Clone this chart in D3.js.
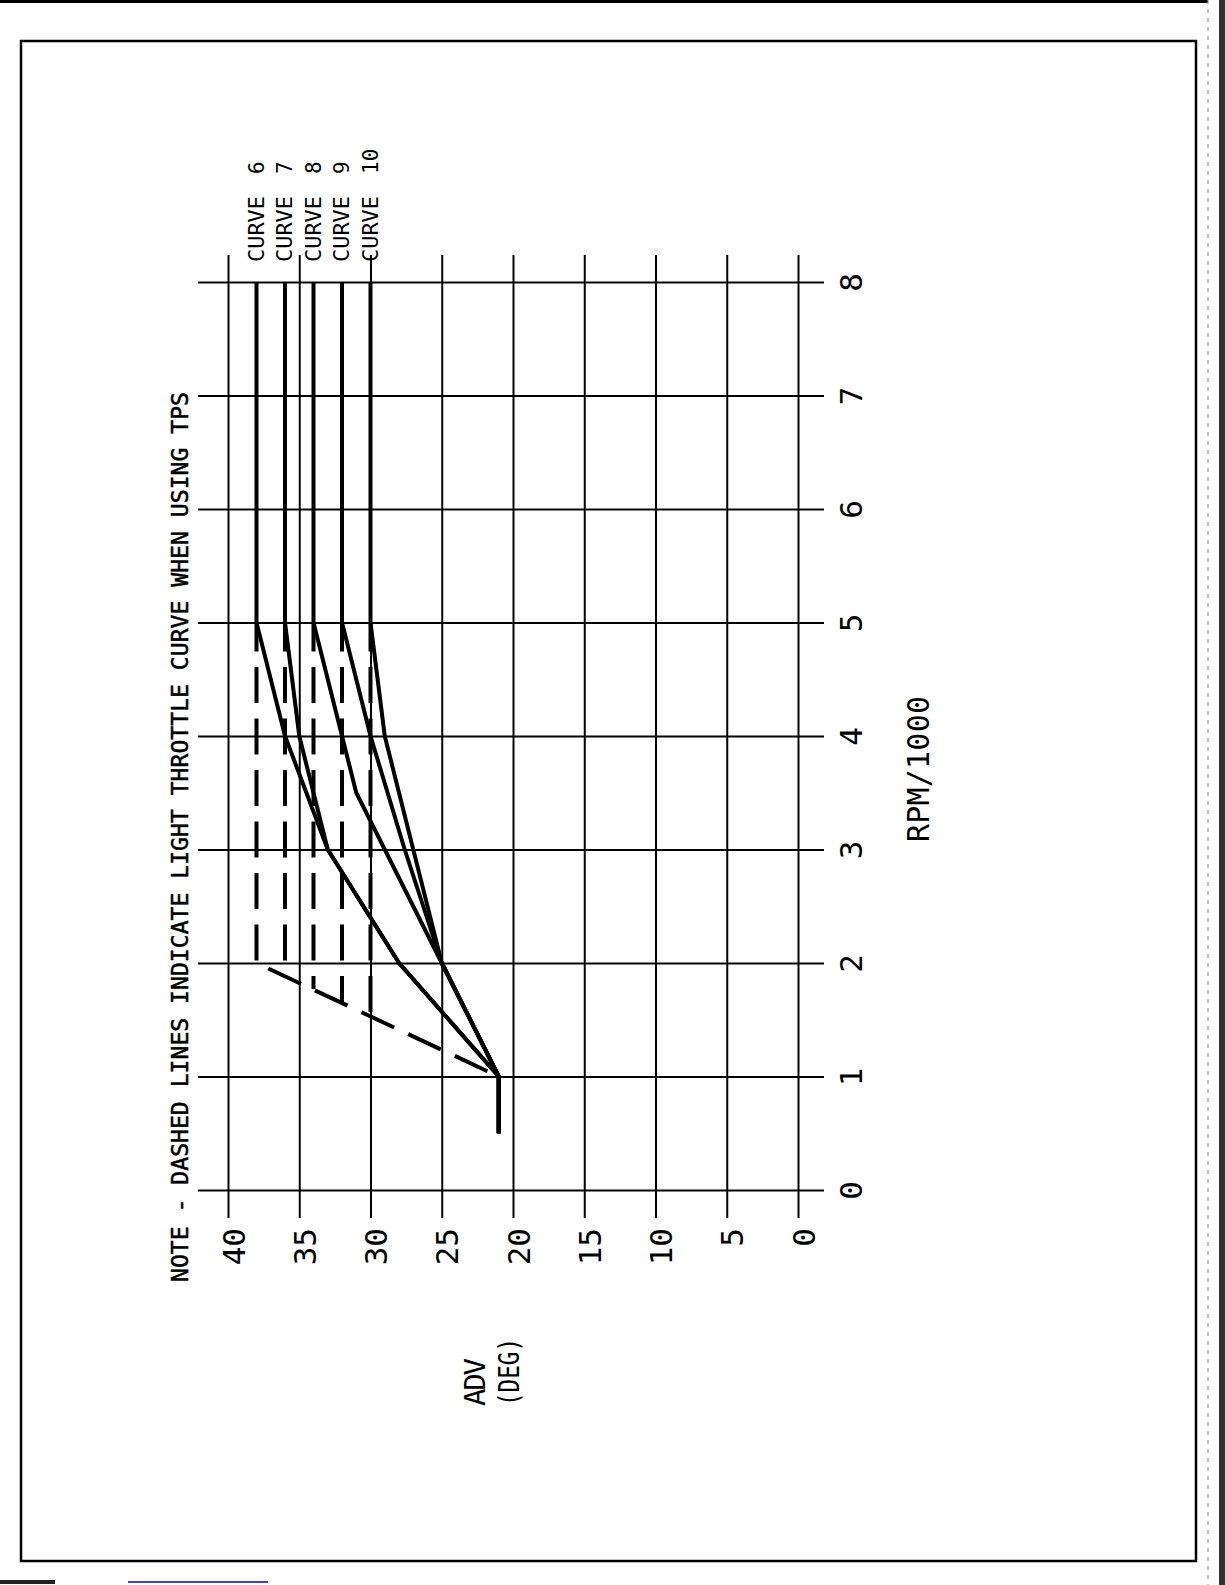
<!DOCTYPE html>
<html>
<head>
<meta charset="utf-8">
<script src="https://cdn.jsdelivr.net/npm/d3@7"></script>
<style>
  body { margin: 0; background: #fff; }
  svg { display: block; }
  text { font-family: "DejaVu Sans Mono", monospace; fill: #000; }
</style>
</head>
<body>
<div id="chart"></div>
<script>
// ticks
const rpmTicks = [0, 1, 2, 3, 4, 5, 6, 7, 8];
const advTicks = [40, 35, 30, 25, 20, 15, 10, 5, 0];

// full throttle curves, [rpm/1000, advance deg]
const curveNumbers = ["6", "7", "8", "9", "10"];
const curveMaxAdv = [38, 36, 34, 32, 30];
const curve6 = [[0.5, 21], [1, 21], [2, 28], [3, 33], [4, 36], [5, 38], [8, 38]];
const curve7 = [[0.5, 21], [1, 21], [2, 28], [3, 33], [4, 35], [5, 36], [8, 36]];
const curve8 = [[0.5, 21], [1, 21], [2, 25], [3.5, 31], [4, 32], [5, 34], [8, 34]];
const curve9 = [[0.5, 21], [1, 21], [2, 25], [3, 27.6], [4, 30], [5, 32], [8, 32]];
const curve10 = [[0.5, 21], [1, 21], [2, 25], [4, 29], [5, 30], [8, 30]];

// light throttle (dashed) : flat from 5000 down to break rpm, then to idle point
const lightTopRpm = 5;
const lightBreakRpm = [2.0, 1.88, 1.77, 1.65, 1.53];
const idlePoint = [1, 21];

const noteText = "NOTE - DASHED LINES INDICATE LIGHT THROTTLE CURVE WHEN USING TPS";

const width = 1225, height = 1585;
const svg = d3.select("#chart").append("svg").attr("width", width).attr("height", height);
svg.append("rect").attr("width", width).attr("height", height).attr("fill", "#fff");

// page frame and scan edges
svg.append("rect").attr("x", 21).attr("y", 41).attr("width", 1175).attr("height", 1520)
  .attr("fill", "none").attr("stroke", "#000").attr("stroke-width", 2.5);
svg.append("line").attr("x1", 0).attr("x2", 1208).attr("y1", 1.5).attr("y2", 1.5)
  .attr("stroke", "#000").attr("stroke-width", 3);
svg.append("line").attr("x1", 1208).attr("x2", 1208).attr("y1", 0).attr("y2", height)
  .attr("stroke", "#999").attr("stroke-width", 1.2).attr("stroke-dasharray", "4,5");
svg.append("rect").attr("x", 1219).attr("y", 0).attr("width", 6).attr("height", height).attr("fill", "#333");
svg.append("rect").attr("x", 0).attr("y", 1580).attr("width", 55).attr("height", 4).attr("fill", "#222");
svg.append("line").attr("x1", 128).attr("x2", 268).attr("y1", 1582).attr("y2", 1582)
  .attr("stroke", "#0000cc").attr("stroke-width", 1.5);

const x = d3.scaleLinear().domain([40, 0]).range([228, 798]);
const y = d3.scaleLinear().domain([0, 8]).range([1190, 282]);

// advance grid (vertical lines)
const gx = svg.append("g").attr("transform", "translate(0,255)")
  .call(d3.axisBottom(x).tickValues(advTicks).tickSize(963).tickSizeOuter(0));
gx.select(".domain").remove();
gx.selectAll(".tick line").attr("stroke", "#000").attr("stroke-width", 2);
gx.selectAll(".tick text").attr("x", null).attr("y", null).attr("dy", null)
  .attr("transform", "translate(16,973) rotate(-90)")
  .attr("text-anchor", "end").style("font-size", "31px");

// rpm grid (horizontal lines)
const gy = svg.append("g").attr("transform", "translate(824,0)")
  .call(d3.axisLeft(y).tickValues(rpmTicks).tickSize(626).tickSizeOuter(0));
gy.select(".domain").remove();
gy.selectAll(".tick line").attr("stroke", "#000").attr("stroke-width", 2);
gy.selectAll(".tick text").attr("x", null).attr("y", null).attr("dy", null)
  .attr("transform", "translate(38,0) rotate(-90)")
  .attr("text-anchor", "middle").style("font-size", "31px");

const line = d3.line().x(d => x(d[1])).y(d => y(d[0]));

// dashed light throttle lines
const lightPaths = lightBreakRpm.map((b, i) => {
  const m = curveMaxAdv[i];
  return i === 0 ? [[lightTopRpm, m], [b, m], idlePoint] : [[lightTopRpm, m], [b, m]];
});
svg.append("g").selectAll("path").data(lightPaths).join("path")
  .attr("d", line).attr("fill", "none").attr("stroke", "#000").attr("stroke-width", 4)
  .attr("stroke-dasharray", "36,15.5").attr("stroke-dashoffset", 7);

// solid curves
svg.append("g").selectAll("path").data([curve6, curve7, curve8, curve9, curve10]).join("path")
  .attr("d", line).attr("fill", "none").attr("stroke", "#000").attr("stroke-width", 4)
  .attr("stroke-linejoin", "round");

// curve labels
const lab = svg.append("g").selectAll("g").data(curveMaxAdv).join("g");
lab.append("text").text("CURVE")
  .attr("transform", d => `translate(${x(d) + 7},262) rotate(-90)`)
  .attr("textLength", 66).attr("lengthAdjust", "spacingAndGlyphs").style("font-size", "22px");
lab.append("text").text((d, i) => curveNumbers[i])
  .attr("transform", d => `translate(${x(d) + 7},174) rotate(-90)`)
  .style("font-size", "21px");

// titles
svg.append("text").text(noteText)
  .attr("transform", "translate(188,1282) rotate(-90)")
  .attr("textLength", 890).attr("lengthAdjust", "spacingAndGlyphs")
  .style("font-size", "23px").style("stroke", "#000").style("stroke-width", 0.5);
svg.append("text").text("RPM/1000")
  .attr("transform", "translate(929,769) rotate(-90)").attr("text-anchor", "middle")
  .attr("textLength", 146).style("font-size", "30px");
svg.append("text").text("ADV")
  .attr("transform", "translate(485,1406) rotate(-90)")
  .attr("textLength", 48).style("font-size", "29px");
svg.append("text").text("(DEG)")
  .attr("transform", "translate(519,1406) rotate(-90)")
  .attr("textLength", 68).attr("lengthAdjust", "spacingAndGlyphs").style("font-size", "29px");
</script>
</body>
</html>
